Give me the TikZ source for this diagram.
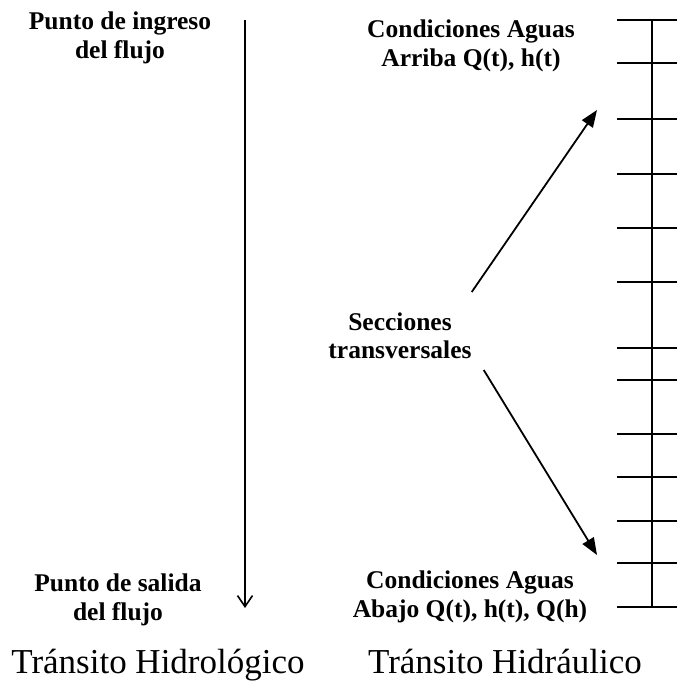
\documentclass[tikz,border=0pt]{standalone}
\usepackage{fontspec}
\setmainfont{Liberation Serif}
\usetikzlibrary{arrows.meta}

\begin{document}
\begin{tikzpicture}[x=1pt,y=-1pt,
    label/.style={align=center,inner sep=2pt,font=\fontsize{25.5}{28.5}\selectfont\bfseries},
    title/.style={anchor=base,font=\fontsize{35}{40}\selectfont},
    flow/.style={line width=1.8pt,-{Straight Barb[length=11pt,width=15pt,line width=1.6pt]}},
    pointer/.style={line width=1.8pt,-{Triangle[length=17pt,width=13pt]}},
    section/.style={line width=1.8pt}]
    \useasboundingbox (0,0) rectangle (677,682);

    % hydrologic routing
    \node[label] (inflow) at (120,38) {Punto de ingreso\\del flujo};
    \node[label] (outflow) at (118,600) {Punto de salida\\del flujo};
    \coordinate (reachtop) at (245,20);
    \coordinate (reachend) at (245,608);
    \draw[flow] (reachtop) -- (reachend);
    \node[title] (hydrol) at (158,673) {Tránsito Hidrológico};

    % hydraulic routing
    \draw[section] (652,20) -- (652,607);
    \foreach \ypos in {20,63,119,174,228,282,348,380,434,477,521,563,607}
      \draw[section] (617,\ypos) -- (677,\ypos);
    \node[label] (upstream) at (471,46) {Condiciones Aguas\\Arriba Q(t), h(t)};
    \node[label] (downstream) at (470,597) {Condiciones Aguas\\Abajo Q(t), h(t), Q(h)};
    \node[label] (secc) at (400,336) {Secciones\\transversales};
    \coordinate (uptip) at (597,110);
    \coordinate (downtip) at (597,555);
    \draw[pointer] ([shift={(-2,-44)}]secc.east) -- (uptip);
    \draw[pointer] ([shift={(10,34)}]secc.east) -- (downtip);
    \node[title] (hydrau) at (505,673) {Tránsito Hidráulico};
\end{tikzpicture}
\end{document}
